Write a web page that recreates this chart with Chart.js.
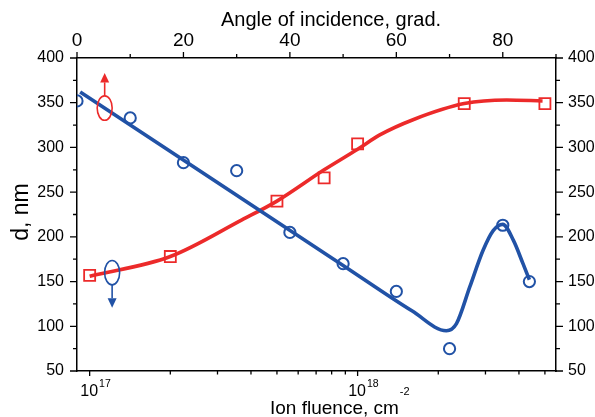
<!DOCTYPE html>
<html>
<head>
<meta charset="utf-8">
<script src="https://cdn.jsdelivr.net/npm/chart.js@4.4.0/dist/chart.umd.min.js"></script>
<style>
  body { margin: 0; background: #fff; }
</style>
</head>
<body>
<canvas id="myChart" width="595" height="417"></canvas>
<script>
// measured points, thickness vs angle (top axis)
var angleDeg = [0, 10, 20, 30, 40, 50, 60, 70, 80, 85];
var dAngle = [352, 333, 283, 274, 205, 170, 139, 75, 213, 150];

// measured points, thickness vs ion fluence (bottom axis)
var fluence = [1e17, 2e17, 5e17, 7.5e17, 1e18, 2.5e18, 5e18];
var dFluence = [157, 178, 240, 266, 304, 349, 349];

// guide curves
var blueLineAngle = [0.6, 50, 63, 69.4, 71.3, 73.8, 76.3, 78.2, 80, 82, 83.8, 85];
var blueLineD = [362, 168, 117, 95, 103, 144, 185, 207, 214, 196, 170, 152];
var redLineFluence = [1e17, 2e17, 3.7e17, 5e17, 7.5e17, 1e18, 1.21e18, 1.61e18, 2.5e18, 3.6e18, 4.9e18];
var redLineD = [156, 178, 219, 240, 275, 298, 314, 331, 349, 353, 352];

// tick values
var dTicks = [50, 100, 150, 200, 250, 300, 350, 400];
var dMinor = [75, 125, 175, 225, 275, 325, 375];
var angleTicks = [0, 20, 40, 60, 80];
var angleMinor = [10, 30, 50, 70, 90];
var fluenceTicks = [1e17, 1e18];
var fluenceExp = ["17", "18"];
var fluenceMinor = [2e17, 3e17, 4e17, 5e17, 6e17, 7e17, 8e17, 9e17, 2e18, 3e18, 4e18, 5e18];

var BLUE = "#2152a6";
var RED = "#ec2a2a";
var FONT = "'Liberation Sans', Arial, sans-serif";

Chart.defaults.font.family = FONT;
Chart.defaults.color = "#000";

function pairs(xs, ys) {
    return xs.map(function (x, i) { return { x: x, y: ys[i] }; });
}

function fixedTicks(list) {
    return function (scale) {
        scale.ticks = list.map(function (v) { return { value: v }; });
    };
}

var axisBorder = { display: true, color: "#000", width: 1.5 };
var noGrid = { drawOnChartArea: false, drawTicks: false };

// tick marks, axis titles with superscripts, the two ellipse markers
var decorPlugin = {
    id: "decor",
    afterDraw: function (chart) {
        var ctx = chart.ctx;
        var a = chart.chartArea;
        var s = chart.scales;
        ctx.save();
        ctx.strokeStyle = "#000";
        ctx.lineWidth = 1.3;

        function vTicks(scale, values, len) {
            values.forEach(function (v) {
                var y = scale.getPixelForValue(v);
                ctx.beginPath();
                ctx.moveTo(a.left - len, y); ctx.lineTo(a.left, y);
                ctx.moveTo(a.right, y); ctx.lineTo(a.right + len, y);
                ctx.stroke();
            });
        }
        function hTicks(scale, values, len, top) {
            values.forEach(function (v) {
                var x = scale.getPixelForValue(v);
                ctx.beginPath();
                if (top) { ctx.moveTo(x, a.top - len); ctx.lineTo(x, a.top); }
                else { ctx.moveTo(x, a.bottom); ctx.lineTo(x, a.bottom + len); }
                ctx.stroke();
            });
        }
        vTicks(s.y, dTicks, 7);
        vTicks(s.y, dMinor, 4);
        hTicks(s.x2, angleTicks, 6, true);
        hTicks(s.x2, angleMinor, 4, true);
        hTicks(s.x, fluenceTicks, 5, false);
        hTicks(s.x, fluenceMinor, 3.5, false);

        // bottom tick labels 10^n
        ctx.fillStyle = "#000";
        ctx.textBaseline = "alphabetic";
        fluenceTicks.forEach(function (v, i) {
            var x = s.x.getPixelForValue(v);
            ctx.font = "16px " + FONT;
            var w = ctx.measureText("10").width;
            ctx.textAlign = "left";
            ctx.fillText("10", x - w / 2 - 0.5, 396);
            ctx.font = "10.5px " + FONT;
            ctx.fillText(fluenceExp[i], x + w / 2 + 0.5, 387);
        });

        // bottom title
        ctx.font = "19px " + FONT;
        var t = "Ion fluence, cm";
        var tw = ctx.measureText(t).width;
        ctx.fillText(t, 270, 414);
        ctx.font = "11px " + FONT;
        ctx.fillText("-2", 270 + tw + 1, 395);

        // top title
        ctx.font = "20px " + FONT;
        ctx.fillText("Angle of incidence, grad.", 221, 26);

        // left title
        ctx.save();
        ctx.translate(28, 212);
        ctx.rotate(-Math.PI / 2);
        ctx.font = "23px " + FONT;
        ctx.textAlign = "center";
        ctx.fillText("d, nm", 0, 0);
        ctx.restore();

        // ellipse markers with arrows
        function marker(angle, d, color, up) {
            var cx = s.x2.getPixelForValue(angle);
            var cy = s.y.getPixelForValue(d);
            ctx.strokeStyle = color;
            ctx.fillStyle = color;
            ctx.lineWidth = 1.6;
            ctx.beginPath();
            ctx.ellipse(cx, cy, 7.5, 12.2, 0, 0, Math.PI * 2);
            ctx.stroke();
            var dir = up ? -1 : 1;
            var y0 = cy + dir * 12.2;
            var base = y0 + dir * 13.5;
            var tip = base + dir * 9.5;
            ctx.beginPath();
            ctx.moveTo(cx, y0); ctx.lineTo(cx, base);
            ctx.stroke();
            ctx.beginPath();
            ctx.moveTo(cx - 4.5, base); ctx.lineTo(cx + 4.5, base); ctx.lineTo(cx, tip);
            ctx.closePath();
            ctx.fill();
        }
        marker(5.2, 344, RED, true);
        marker(6.6, 160, BLUE, false);
        ctx.restore();
    }
};

var ctx = document.getElementById("myChart").getContext("2d");
var chart = new Chart(ctx, {
    type: "line",
    data: {
        datasets: [{
            // circles
            type: "scatter",
            xAxisID: "x2",
            yAxisID: "y",
            data: pairs(angleDeg, dAngle),
            pointStyle: "circle",
            pointRadius: 5.6,
            borderWidth: 2,
            borderColor: BLUE,
            backgroundColor: "rgba(0,0,0,0)"
        }, {
            // squares
            type: "scatter",
            xAxisID: "x",
            yAxisID: "y",
            data: pairs(fluence, dFluence),
            pointStyle: "rect",
            pointRadius: 7.8,
            borderWidth: 1.8,
            borderColor: RED,
            backgroundColor: "rgba(0,0,0,0)"
        }, {
            xAxisID: "x2",
            yAxisID: "y",
            data: pairs(blueLineAngle, blueLineD),
            borderColor: BLUE,
            borderWidth: 3.6,
            pointRadius: 0,
            cubicInterpolationMode: "monotone",
            fill: false
        }, {
            xAxisID: "x",
            yAxisID: "y",
            data: pairs(redLineFluence, redLineD),
            borderColor: RED,
            borderWidth: 3.6,
            pointRadius: 0,
            cubicInterpolationMode: "monotone",
            fill: false
        }]
    },
    options: {
        responsive: false,
        animation: false,
        events: [],
        layout: { padding: 0 },
        plugins: {
            legend: { display: false },
            tooltip: { enabled: false }
        },
        scales: {
            x: {
                type: "logarithmic",
                position: "bottom",
                min: 8.97e16,
                max: 5.5e18,
                ticks: { display: false },
                grid: noGrid,
                border: axisBorder,
                afterFit: function (sc) { sc.height = 46; }
            },
            x2: {
                type: "linear",
                position: "top",
                min: 0,
                max: 90,
                afterBuildTicks: fixedTicks(angleTicks),
                ticks: { font: { size: 19 }, padding: 5.5, color: "#000" },
                grid: noGrid,
                border: axisBorder,
                afterFit: function (sc) { sc.height = 58; }
            },
            y: {
                position: "left",
                min: 50,
                max: 400,
                afterBuildTicks: fixedTicks(dTicks),
                ticks: { font: { size: 16 }, padding: 13, color: "#000" },
                grid: noGrid,
                border: axisBorder,
                afterFit: function (sc) { sc.width = 77; }
            },
            y2: {
                position: "right",
                min: 50,
                max: 400,
                afterBuildTicks: fixedTicks(dTicks),
                ticks: { font: { size: 16 }, padding: 12, color: "#000" },
                grid: noGrid,
                border: axisBorder,
                afterFit: function (sc) { sc.width = 39; }
            }
        }
    },
    plugins: [decorPlugin]
});
</script>
</body>
</html>
